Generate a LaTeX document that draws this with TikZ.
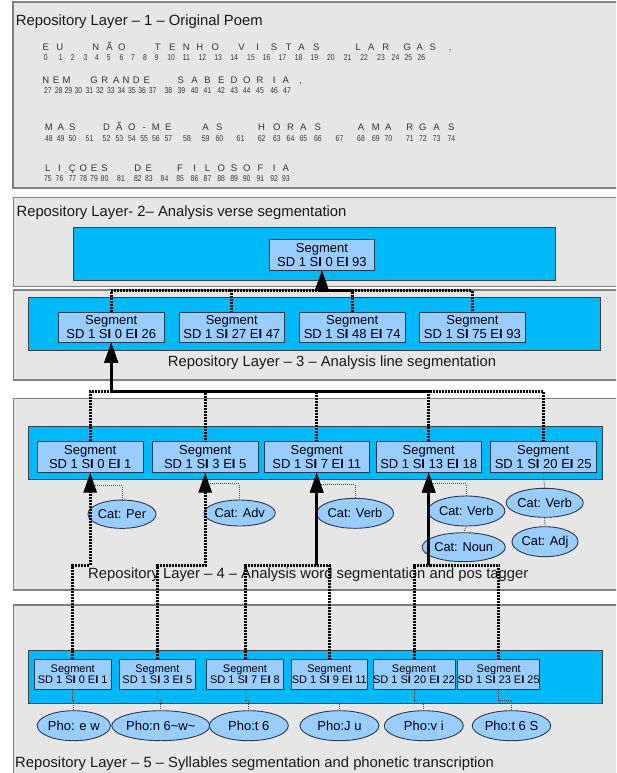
\documentclass[tikz,border=0pt]{standalone}
\usepackage{fontspec}
\setmainfont{Liberation Sans}
\usetikzlibrary{arrows.meta,shapes.geometric,calc}

\definecolor{layerfill}{HTML}{E6E6E6}
\definecolor{layerline}{HTML}{7F7F7F}
\definecolor{bandblue}{HTML}{00B9F9}
\definecolor{segfill}{HTML}{99CCFF}
\definecolor{segline}{HTML}{2B3A4A}

\newcommand\sgm[2]{Segment\\SD 1 S\textbf{I} #1 E\textbf{I} #2}
\newcommand\narrownum[1]{\scalebox{0.8}[1]{#1}}

\tikzset{
  layerbox/.style={draw=layerline, line width=1.4pt, fill=layerfill},
  bandbox/.style={draw=black!75, line width=0.9pt, fill=bandblue},
  segbox/.style={rectangle, draw=segline, line width=0.9pt, fill=segfill, inner sep=0pt,
    align=center, minimum width=105.5pt, minimum height=30.5pt,
    font=\fontsize{13}{14}\selectfont},
  sylbox/.style={segbox, minimum width=76.7pt, minimum height=30pt,
    font=\fontsize{11}{11}\selectfont},
  tagell/.style={ellipse, draw=segline, line width=0.9pt, fill=segfill, inner sep=0pt,
    minimum width=60.7pt, minimum height=29pt, font=\fontsize{12.8}{14}\selectfont},
  phoell/.style={tagell, minimum width=79pt, minimum height=30pt, font=\fontsize{13}{14}\selectfont},
  lyrtitle/.style={font=\fontsize{14.8}{17}\selectfont, inner sep=0pt, text=black!90},
  poemchar/.style={font=\fontsize{9.5}{10}\selectfont, inner sep=0pt, anchor=base, text=black!80},
  poemnum/.style={font=\fontsize{8.5}{10}\selectfont, inner sep=0pt, anchor=base, text=black!80},
  wire/.style={line width=3pt, dash pattern=on 2pt off 1pt},
  arrowin/.style={-{Triangle[length=20pt,width=13pt]}},
  taglink/.style={line width=0.8pt, dash pattern=on 1pt off 1pt, draw=black!70},
}

\begin{document}
\begin{tikzpicture}[x=1pt,y=-1pt]
\useasboundingbox (0,0) rectangle (616,773);
\clip (0,0) rectangle (616,773);

% ---------- repository layers ----------
\path[layerbox] (13,2) rectangle (630,188);
\path[layerbox] (13.7,197.3) rectangle (630,286.7);
\path[layerbox] (13.7,290) rectangle (630,380);
\path[layerbox] (13.3,398.5) rectangle (630,590);
\path[layerbox] (13.3,605) rectangle (630,790);

% ---------- blue bands ----------
\path[bandbox] (73.2,227.7) rectangle (555.2,280);
\path[bandbox] (28.2,297.3) rectangle (600.2,350);
\path[bandbox] (28.3,426.7) rectangle (602.3,479.3);
\path[bandbox] (28.3,650) rectangle (602.3,703.3);

% ---------- layer titles ----------
\node[lyrtitle, anchor=west] (t1) at (15.7,21.7) {Repository Layer – 1 – Original Poem};
\node[lyrtitle, anchor=west] (t2) at (16.4,212.7) {Repository Layer- 2– Analysis verse segmentation};
\node[lyrtitle] (t3) at (332,363) {Repository Layer – 3 – Analysis line segmentation};
\node[lyrtitle] (t4) at (308.3,575) {Repository Layer – 4 – Analysis word segmentation and pos tagger};
\node[lyrtitle, anchor=west] (t5) at (15,763.3) {Repository Layer – 5 – Syllables segmentation and phonetic transcription};

% ---------- original poem (letters on baselines, index numbers below) ----------
\foreach \x/\c [count=\i] in {45.8/E,59.9/U,95.9/N,109.6/Ã,121.8/O,157.8/T,172.3/E,186.4/N,199.7/H,215.3/O,
  241.6/V,257.6/I,274.1/S,288.6/T,301.5/A,316.4/S,358.3/L,371.2/A,385.7/R,407.2/G,419.7/A,432.7/S,450.3/{,}}
  \node[poemchar] (pa\i) at (\x,50.4) {\c};
\foreach \x [count=\i from 0] in {45.8,60.7,72.8,85.4,97.1,108.8,121.4,133.1,144.9,156.6,171.1,186.4,202.4,
  218.1,234.1,251,266.6,282.3,298.7,314.4,330.9,347.7,364.1,381,395.5,408.4,421.3}
  \node[poemnum] (na\i) at (\x,61) {\narrownum{\i}};

\foreach \x/\c [count=\i] in {45.8/N,56/E,66.6/M,94/G,104.9/R,116.3/A,126.1/N,136.3/D,146.8/E,180.9/S,
  194.6/A,207.5/B,221.2/E,234.1/D,246.7/O,260/R,274.1/I,285.8/A,300.7/{,}}
  \node[poemchar] (pb\i) at (\x,83.4) {\c};
\foreach \x [count=\i from 27] in {47.8,58.7,68.5,78.3,89.3,99.8,110.8,121.4,131.9,142.1,152.7,168.4,181.3,
  194.6,207.5,221.2,234.1,246.7,260,274.1,287}
  \node[poemnum] (nb\i) at (\x,93.3) {\narrownum{\i}};

\foreach \x/\c [count=\i] in {48.9/M,60.7/A,72.4/S,106.5/D,119.4/Ã,131.9/O,144.1/-,155.8/M,168.4/E,205.6/A,
  219.3/S,261.6/H,276.8/O,290.5/R,303.4/A,317.9/S,361/A,375.9/M,388.4/A,409.9/R,422.9/G,436.6/A,451.4/S}
  \node[poemchar] (pc\i) at (\x,130.1) {\c};
\foreach \x [count=\i from 48] in {48.9,60.7,72.4,89.5,106.5,119.4,131.9,144.1,155.8,168.4,187,205.6,219.3,
  240.5,261.6,276.8,290.5,303.4,317.9,339.5,361,375.9,388.4,409.9,422.9,436.6,451.4}
  \node[poemnum] (nc\i) at (\x,142) {\narrownum{\i}};

\foreach \x/\c [count=\i] in {47.8/L,59.5/I,72.4/Ç,83.4/O,94/E,104.5/S,137.8/D,148.8/E,180.1/F,194.6/I,
  207.5/L,221.2/O,234.1/S,246.7/O,260.4/F,274.1/I,285.8/A}
  \node[poemchar] (pd\i) at (\x,171.1) {\c};
\foreach \x [count=\i from 75] in {47.8,59.5,72.4,83.4,94,104.5,121,137.8,148.8,164.5,180.1,194.6,207.5,
  221.2,234.1,246.7,260.4,274.1,285.8}
  \node[poemnum] (nd\i) at (\x,181.3) {\narrownum{\i}};

% ---------- segments ----------
\node[segbox] (s2) at (321.9,255) {\sgm{0}{93}};

\node[segbox] (s3a) at (111.2,327.2) {\sgm{0}{26}};
\node[segbox] (s3b) at (231.8,327.2) {\sgm{27}{47}};
\node[segbox] (s3c) at (352.2,327.2) {\sgm{48}{74}};
\node[segbox] (s3d) at (472.4,327.2) {\sgm{75}{93}};

\node[segbox] (s4a) at (90.2,457) {\sgm{0}{1}};
\node[segbox] (s4b) at (205.2,457) {\sgm{3}{5}};
\node[segbox] (s4c) at (316.7,457) {\sgm{7}{11}};
\node[segbox] (s4d) at (428.7,457) {\sgm{13}{18}};
\node[segbox] (s4e) at (543.2,457) {\sgm{20}{25}};

\node[sylbox] (s5a) at (72.7,674.3) {\sgm{0}{1}};
\node[sylbox] (s5b) at (157.3,674.3) {\sgm{3}{5}};
\node[sylbox] (s5c) at (245,674.3) {\sgm{7}{8}};
\node[sylbox] (s5d) at (329.3,674.3) {\sgm{9}{11}};
\node[sylbox] (s5e) at (414,674.3) {\sgm{20}{22}};
\node[sylbox] (s5f) at (498.7,674.3) {\sgm{23}{25}};

% ---------- part-of-speech tags ----------
\node[tagell, minimum width=59.4pt, minimum height=28.3pt] (c1) at (122,514.2) {Cat: Per};
\node[tagell, minimum height=26pt] (c2) at (239.7,513) {Cat: Adv};
\node[tagell, minimum width=60pt, minimum height=30pt] (c3) at (355,513.3) {Cat: Verb};
\node[tagell, minimum height=30pt] (c4) at (466.3,511) {Cat: Verb};
\node[tagell] (c5) at (463.7,547.2) {Cat: Noun};
\node[tagell] (c6) at (544.7,502.8) {Cat: Verb};
\node[tagell, minimum width=61pt, minimum height=30pt] (c7) at (545,541.7) {Cat: Adj};

% ---------- phonetic transcriptions ----------
\node[phoell, minimum width=61pt] (p1) at (73.8,725.7) {Pho: e w};
\node[phoell, minimum width=78.3pt] (p2) at (160.8,725.7) {Pho:n 6\textasciitilde w\textasciitilde};
\node[phoell] (p3) at (248.8,725.7) {Pho:t 6};
\node[phoell] (p4) at (339.5,725.7) {Pho:J u};
\node[phoell] (p5) at (423.8,725.7) {Pho:v i};
\node[phoell, minimum width=78.4pt] (p6) at (511.5,725.7) {Pho:t 6 S};

% ---------- thin annotation links ----------
\draw[taglink] (c1.north) -- ++(0,-14) -| (s4a.south);
\draw[taglink] (c2.north) -- ++(0,-15.7) -| (s4b.south);
\draw[taglink] (c3.north) -- ++(0,-13.3) -| (s4c.south);
\draw[taglink] (c4.north) -- ++(0,-11.7) -| (s4d.south);
\draw[taglink] (c4.south) -- (c5.north);
\draw[taglink] (s4e.south) -- (c6.north);
\draw[taglink] (c6.south) -- (c7.north);

\foreach \s/\p in {s5a/p1,s5b/p2,s5c/p3,s5d/p4,s5e/p5,s5f/p6}
  \draw[taglink] (\s.south) -- ++(0,10.7) -| (\p.north);

% ---------- hierarchy links ----------
\coordinate (rowA) at (0,290.7);
\coordinate (rowB) at (0,391.7);
\coordinate (rowC) at (0,565.5);

\draw[wire, arrowin] (s3a.north) |- (s2.south |- rowA) -- (s2.south);
\draw[wire, arrowin, dash phase=1.5] (s3b.north) |- (s2.south |- rowA) -- (s2.south);
\draw[wire, arrowin, dash phase=0.7] (s3c.north) |- (s2.south |- rowA) -- (s2.south);
\draw[wire, arrowin, dash phase=2.2] (s3d.north) |- (s2.south |- rowA) -- (s2.south);

\draw[wire, arrowin] (s4a.north) |- (s3a.south |- rowB) -- (s3a.south);
\draw[wire, arrowin, dash phase=1.5] (s4b.north) |- (s3a.south |- rowB) -- (s3a.south);
\draw[wire, arrowin, dash phase=0.7] (s4c.north) |- (s3a.south |- rowB) -- (s3a.south);
\draw[wire, arrowin, dash phase=2.2] (s4d.north) |- (s3a.south |- rowB) -- (s3a.south);
\draw[wire, arrowin, dash phase=1.1] (s4e.north) |- (s3a.south |- rowB) -- (s3a.south);

\draw[wire, arrowin] (s5a.north) |- (s4a.south |- rowC) -- (s4a.south);
\draw[wire, arrowin] (s5b.north) |- (s4b.south |- rowC) -- (s4b.south);
\draw[wire, arrowin] (s5c.north) |- (s4c.south |- rowC) -- (s4c.south);
\draw[wire, arrowin, dash phase=1.5] (s5d.north) |- (s4c.south |- rowC) -- (s4c.south);
\draw[wire, arrowin] (s5e.north) |- (s4d.south |- rowC) -- (s4d.south);
\draw[wire, arrowin, dash phase=1.5] (s5f.north) |- (s4d.south |- rowC) -- (s4d.south);
\end{tikzpicture}
\end{document}
